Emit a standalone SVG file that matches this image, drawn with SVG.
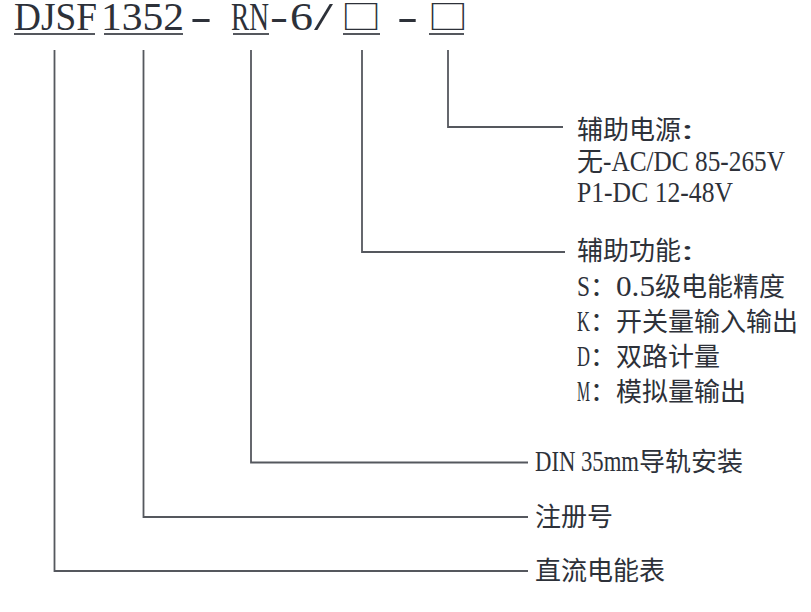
<svg xmlns="http://www.w3.org/2000/svg" width="811" height="612" viewBox="0 0 811 612">
<style>
  .bg{fill:#ffffff}
  .title{font-family:"Liberation Serif","Noto Sans CJK SC",serif;font-size:40px;fill:#2d3139}
  .box{font-family:"Noto Sans CJK SC",sans-serif;font-size:33.5px;fill:#2d3139}
  .ul{stroke:#55585e;stroke-width:2;fill:none}
  .conn{stroke:#55585e;stroke-width:1.8;fill:none}
  .lbl{font-family:"Liberation Serif","Noto Sans CJK SC",serif;font-size:30px;fill:#2d3139}
  .cjk{font-family:"Noto Sans CJK SC",sans-serif;font-size:26px}
</style>
<rect class="bg" x="0" y="0" width="811" height="612"/>
<g id="title">
  <text class="title" y="30"><tspan x="14" textLength="83" lengthAdjust="spacingAndGlyphs">DJSF</tspan><tspan x="101" textLength="83" lengthAdjust="spacingAndGlyphs">1352</tspan><tspan x="190" textLength="22" lengthAdjust="spacingAndGlyphs">-</tspan><tspan x="212"> </tspan><tspan x="231" textLength="38" lengthAdjust="spacingAndGlyphs">RN</tspan><tspan x="270" textLength="18" lengthAdjust="spacingAndGlyphs">-</tspan><tspan x="290" textLength="23" lengthAdjust="spacingAndGlyphs">6</tspan><tspan x="314" textLength="19" lengthAdjust="spacingAndGlyphs">/</tspan><tspan class="box" x="341" y="29.3" textLength="40.2" lengthAdjust="spacingAndGlyphs">□</tspan><tspan x="384" y="30"> </tspan><tspan x="397" textLength="21" lengthAdjust="spacingAndGlyphs">-</tspan><tspan class="box" x="427.7" y="29.3" textLength="40.2" lengthAdjust="spacingAndGlyphs">□</tspan></text>
  <line class="ul" x1="14" y1="34" x2="95" y2="34"/>
  <line class="ul" x1="104" y1="34" x2="183" y2="34"/>
  <line class="ul" x1="233" y1="34" x2="269" y2="34"/>
  <line class="ul" x1="343" y1="34" x2="380" y2="34"/>
  <line class="ul" x1="429" y1="34" x2="464" y2="34"/>
</g>
<g id="connectors">
  <polyline class="conn" points="448,50 448,127 563,127"/>
  <polyline class="conn" points="362,50 362,252 565,252"/>
  <polyline class="conn" points="251,50 251,462.5 528,462.5"/>
  <polyline class="conn" points="143.5,50 143.5,517 528,517"/>
  <polyline class="conn" points="54.5,50 54.5,571 528,571"/>
</g>
<g id="node-power">
  <text class="lbl" y="139"><tspan class="cjk" x="577">辅助电源</tspan><tspan x="681" textLength="13" lengthAdjust="spacingAndGlyphs">:</tspan></text>
  <text class="lbl" y="171"><tspan class="cjk" x="577">无</tspan><tspan x="603" textLength="182" lengthAdjust="spacingAndGlyphs">-AC/DC 85-265V</tspan></text>
  <text class="lbl" y="202"><tspan x="577" textLength="156" lengthAdjust="spacingAndGlyphs">P1-DC 12-48V</tspan></text>
</g>
<g id="node-function">
  <text class="lbl" y="260"><tspan class="cjk" x="577">辅助功能</tspan><tspan x="681" textLength="13" lengthAdjust="spacingAndGlyphs">:</tspan></text>
  <text class="lbl" y="296"><tspan x="577" textLength="13" lengthAdjust="spacingAndGlyphs">S</tspan><tspan class="cjk" x="590">：</tspan><tspan x="616" textLength="39" lengthAdjust="spacingAndGlyphs">0.5</tspan><tspan class="cjk" x="655">级电能精度</tspan></text>
  <text class="lbl" y="331"><tspan x="577" textLength="13" lengthAdjust="spacingAndGlyphs">K</tspan><tspan class="cjk" x="590">：开关量输入输出</tspan></text>
  <text class="lbl" y="366"><tspan x="577" textLength="13" lengthAdjust="spacingAndGlyphs">D</tspan><tspan class="cjk" x="590">：双路计量</tspan></text>
  <text class="lbl" y="401"><tspan x="577" textLength="13" lengthAdjust="spacingAndGlyphs">M</tspan><tspan class="cjk" x="590">：模拟量输出</tspan></text>
</g>
<g id="node-din">
  <text class="lbl" y="471"><tspan x="535" textLength="104" lengthAdjust="spacingAndGlyphs">DIN 35mm</tspan><tspan class="cjk" x="639">导轨安装</tspan></text>
</g>
<g id="node-reg">
  <text class="lbl" y="526"><tspan class="cjk" x="535">注册号</tspan></text>
</g>
<g id="node-dc">
  <text class="lbl" y="580"><tspan class="cjk" x="535">直流电能表</tspan></text>
</g>
</svg>
